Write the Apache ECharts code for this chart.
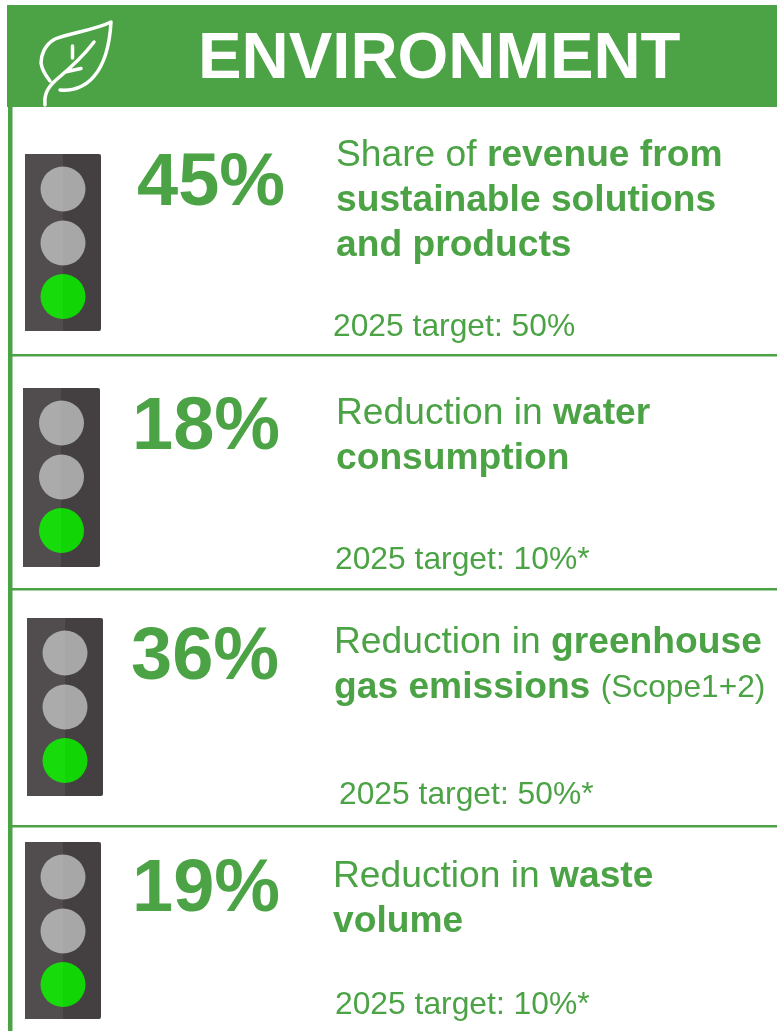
<!DOCTYPE html>
<html><head><meta charset="utf-8">
<style>html,body{margin:0;padding:0;background:#fff}#c{width:777px;height:1031px}</style>
<script src="https://cdn.jsdelivr.net/npm/echarts@6/dist/echarts.min.js"></script></head>
<body><div id="c"></div>
<script>
// ---- content ----
const title = 'ENVIRONMENT';
const percents = ['45%', '18%', '36%', '19%'];
const lightStates = ['green', 'green', 'green', 'green'];
const descriptions = [
  [[['n','Share of '],['b','revenue from']],[['b','sustainable solutions']],[['b','and products']]],
  [[['n','Reduction in '],['b','water']],[['b','consumption']]],
  [[['n','Reduction in '],['b','greenhouse']],[['b','gas emissions '],['s','(Scope1+2)']]],
  [[['n','Reduction in '],['b','waste']],[['b','volume']]]
];
const targets = ['2025 target: 50%', '2025 target: 10%*', '2025 target: 50%*', '2025 target: 10%*'];

// ---- layout and style ----
const GREEN = '#4ba345';
const FONT = '"Liberation Sans", Arial, sans-serif';
const lightBoxes = [[25,154,76,177],[23,388,77,179],[27,618,76,178],[25,842,76,177]];
const percentPos = [[137,185],[132,429],[131,659],[132,891]];
const descPos = [[336,156],[336,414],[334,643],[333,877]];
const targetPos = [[333,327],[335,560],[339,795],[335,1005]];
const dividers = [355,589,826];
const split = (a,b) => ({type:'linear',x:0,y:0,x2:1,y2:0,colorStops:[
  {offset:0,color:a},{offset:.5,color:a},{offset:.5,color:b},{offset:1,color:b}]});
const lampColors = {
  off: split('#ababab','#a7a7a7'),
  green: split('#17db0b','#11d504')
};
const leaf = 'M60 90C85 92 108 75 111 22C95 30 70 33 55 39C44 45 41 56 41 63C42 70 46 76 50 81M45 105C44 95 47 88 56 80C68 70 82 58 94 42M72.5 58L72.5 46M65 72L81 68.5';
echarts.graphic.registerShape('leafIcon', echarts.graphic.extendPath(leaf, {}));
const els = [];
els.push({type:'rect',shape:{x:7,y:5,width:770,height:102},style:{fill:GREEN}});
els.push({type:'rect',shape:{x:8,y:107,width:4.5,height:924},style:{fill:GREEN}});
dividers.forEach(y=>els.push({type:'rect',shape:{x:8,y:y-1,width:769,height:2.5},style:{fill:GREEN}}));
els.push({type:'text',x:198,y:60,style:{text:title,fill:'#fff',font:'bold 65.3px '+FONT,textVerticalAlign:'middle'}});
els.push({type:'leafIcon',style:{fill:'none',stroke:'#fff',lineWidth:3.5,lineCap:'round',lineJoin:'round'}});

percents.forEach((p,i)=>{
  const [bx,by,bw,bh] = lightBoxes[i];
  els.push({type:'rect',shape:{x:bx,y:by,width:bw,height:bh,r:[0,2,2,0]},style:{fill:split('#514d4e','#444041')}});
  const cx = bx+bw/2;
  [35,89,142.5].forEach((dy,k)=>{
    const color = k===2 ? lampColors[lightStates[i]] : lampColors.off;
    els.push({type:'circle',shape:{cx,cy:by+dy,r:22.5},style:{fill:color}});
  });
  els.push({type:'text',x:percentPos[i][0],y:percentPos[i][1],style:{text:p,fill:GREEN,font:'bold 74px '+FONT,textVerticalAlign:'middle'}});
  descriptions[i].forEach((line,l)=>{
    const text = line.map(([k,t])=>`{${k}|${t}}`).join('');
    els.push({type:'text',x:descPos[i][0],y:descPos[i][1]+l*45,style:{
      text,fill:GREEN,textVerticalAlign:'middle',
      rich:{
        n:{font:'37.2px '+FONT,fill:GREEN},
        b:{font:'bold 37.2px '+FONT,fill:GREEN},
        s:{font:'31.7px '+FONT,fill:GREEN}
      }}});
  });
  els.push({type:'text',x:targetPos[i][0],y:targetPos[i][1],style:{text:targets[i],fill:GREEN,font:'31.8px '+FONT,textVerticalAlign:'middle'}});
});
const chart = echarts.init(document.getElementById('c'),null,{renderer:'canvas'});
chart.setOption({animation:false,backgroundColor:'#fff',graphic:{elements:els}});
</script></body></html>
